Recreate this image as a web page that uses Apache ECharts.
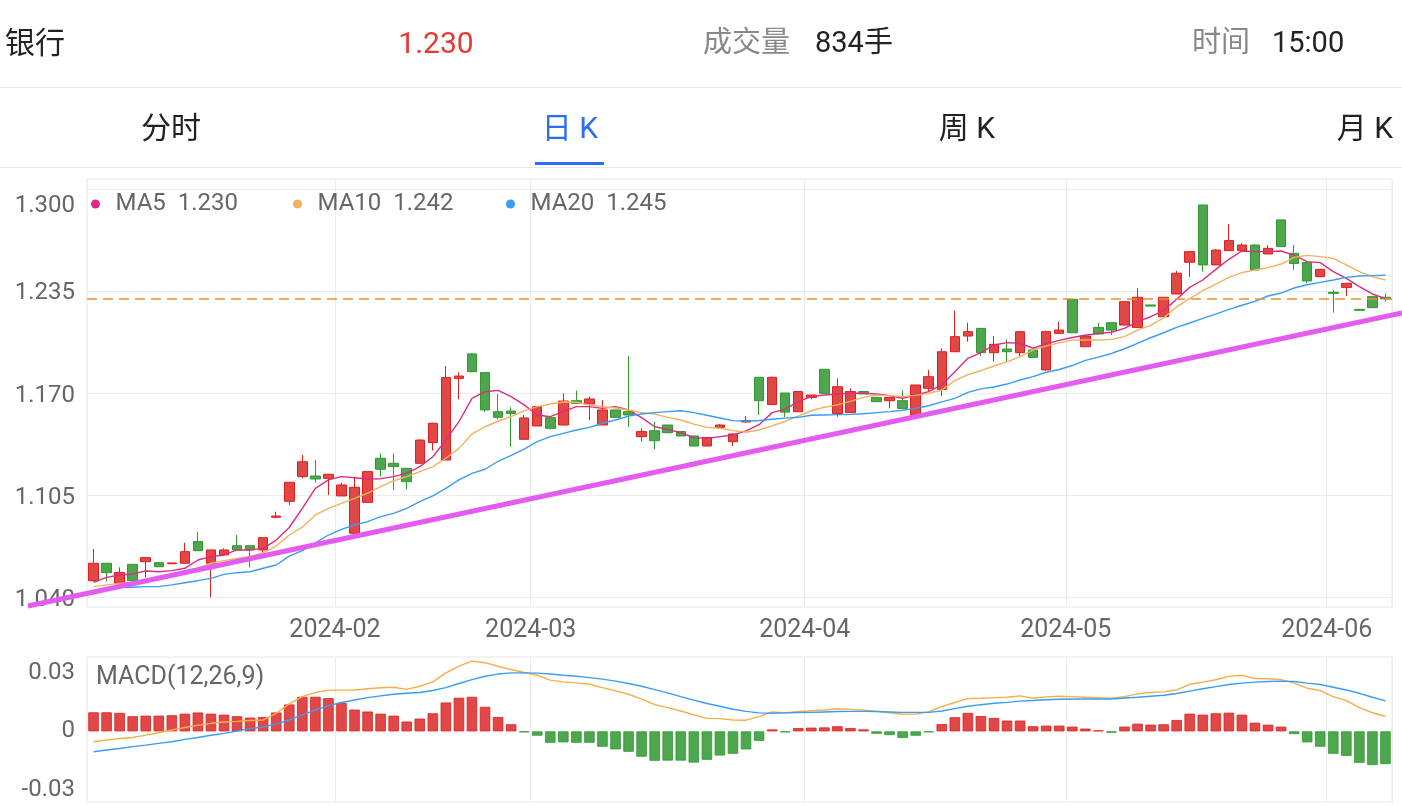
<!DOCTYPE html>
<html><head><meta charset="utf-8">
<script src="https://cdn.jsdelivr.net/npm/echarts@6/dist/echarts.min.js"></script>
<style>html,body{margin:0;padding:0;background:#fff}#c{width:1402px;height:806px}</style>
</head><body><div id="c"></div>
<script>
// ---------- data ----------
const tradingDays = {
  '2024-01': [5,8,9,10,11,12,15,16,17,18,19,22,23,24,25,26,29,30,31],
  '2024-02': [1,2,5,6,7,8,19,20,21,22,23,26,27,28,29],
  '2024-03': [1,4,5,6,7,8,11,12,13,14,15,18,19,20,21,22,25,26,27,28,29],
  '2024-04': [1,2,3,8,9,10,11,12,15,16,17,18,19,22,23,24,25,26,29,30],
  '2024-05': [6,7,8,9,10,13,14,15,16,17,20,21,22,23,24,27,28,29,30,31],
  '2024-06': [3,4,5,6,7]
};
const openP = [1.0504,1.0615,1.0487,1.0608,1.0625,1.0619,1.0612,1.0615,1.0753,1.0615,
 1.0668,1.0727,1.0727,1.0700,1.0908,1.1010,1.1167,1.1171,1.1156,1.1044,
 1.0806,1.1003,1.1284,1.1252,1.1220,1.1252,1.1384,1.1273,1.1793,1.1949,
 1.1830,1.1581,1.1585,1.1405,1.1490,1.1543,1.1496,1.1651,1.1630,1.1496,
 1.1592,1.1581,1.1422,1.1460,1.1496,1.1454,1.1426,1.1362,1.1481,1.1390,
 1.1515,1.1800,1.1627,1.1700,1.1581,1.1672,1.1851,1.1570,1.1575,1.1709,
 1.1672,1.1651,1.1651,1.1560,1.1730,1.1723,1.1963,1.2063,1.2112,1.1957,
 1.1980,1.1957,1.1974,1.1847,1.2080,1.2297,1.1995,1.2118,1.2148,1.2133,
 1.2118,1.2261,1.2186,1.2331,1.2533,1.2898,1.2516,1.2607,1.2607,1.2643,
 1.2586,1.2803,1.2590,1.2531,1.2441,1.2342,1.2373,1.2233,1.2314,1.2310];
const closeP = [1.0615,1.0555,1.0557,1.0504,1.0651,1.0593,1.0617,1.0689,1.0695,1.0700,
 1.0700,1.0700,1.0700,1.0778,1.0916,1.1131,1.1262,1.1152,1.1182,1.1114,
 1.1099,1.1199,1.1214,1.1231,1.1135,1.1400,1.1507,1.1798,1.1808,1.1836,
 1.1592,1.1545,1.1570,1.1541,1.1613,1.1475,1.1649,1.1634,1.1662,1.1592,
 1.1545,1.1560,1.1454,1.1396,1.1447,1.1426,1.1362,1.1417,1.1496,1.1439,
 1.1524,1.1651,1.1800,1.1578,1.1709,1.1687,1.1698,1.1740,1.1709,1.1694,
 1.1645,1.1672,1.1602,1.1751,1.1804,1.1963,1.2059,1.2091,1.1957,1.2010,
 1.1963,1.2091,1.1927,1.2091,1.2101,1.2084,1.2063,1.2076,1.2101,1.2282,
 1.2310,1.2254,1.2310,1.2463,1.2601,1.2516,1.2611,1.2671,1.2643,1.2484,
 1.2622,1.2633,1.2526,1.2414,1.2488,1.2335,1.2399,1.2227,1.2244,1.2300];
const lowP = [1.0498,1.0498,1.0487,1.0498,1.0525,1.0593,1.0612,1.0615,1.0695,1.0398,
 1.0661,1.0700,1.0589,1.0683,1.0901,1.0986,1.1156,1.1129,1.1050,1.1044,
 1.0806,1.1003,1.1167,1.1082,1.1086,1.1252,1.1333,1.1273,1.1660,1.1832,
 1.1581,1.1532,1.1358,1.1405,1.1490,1.1468,1.1496,1.1634,1.1528,1.1496,
 1.1541,1.1481,1.1390,1.1341,1.1443,1.1426,1.1362,1.1362,1.1475,1.1362,
 1.1511,1.1560,1.1627,1.1545,1.1581,1.1660,1.1698,1.1549,1.1575,1.1694,
 1.1645,1.1602,1.1602,1.1560,1.1709,1.1681,1.1963,1.2027,1.1936,1.1900,
 1.1900,1.1936,1.1927,1.1843,1.2076,1.2084,1.1995,1.2070,1.2070,1.2133,
 1.2118,1.2254,1.2186,1.2331,1.2441,1.2473,1.2516,1.2607,1.2607,1.2484,
 1.2586,1.2633,1.2484,1.2399,1.2441,1.2212,1.2318,1.2227,1.2244,1.2282];
const highP = [1.0706,1.0615,1.0589,1.0608,1.0651,1.0619,1.0617,1.0746,1.0816,1.0700,
 1.0710,1.0795,1.0727,1.0778,1.0944,1.1131,1.1305,1.1273,1.1182,1.1129,
 1.1167,1.1199,1.1316,1.1316,1.1220,1.1405,1.1511,1.1872,1.1832,1.1953,
 1.1830,1.1694,1.1609,1.1560,1.1617,1.1543,1.1698,1.1715,1.1677,1.1655,
 1.1592,1.1936,1.1475,1.1517,1.1496,1.1454,1.1426,1.1417,1.1502,1.1443,
 1.1553,1.1800,1.1804,1.1700,1.1713,1.1687,1.1851,1.1793,1.1730,1.1713,
 1.1677,1.1672,1.1715,1.1751,1.1847,1.1985,1.2225,1.2148,1.2112,1.2063,
 1.2042,1.2091,1.1974,1.2097,1.2155,1.2297,1.2070,1.2148,1.2148,1.2282,
 1.2367,1.2261,1.2310,1.2478,1.2601,1.2898,1.2616,1.2777,1.2654,1.2647,
 1.2643,1.2803,1.2643,1.2531,1.2488,1.2356,1.2399,1.2233,1.2314,1.2335];
const ma5 = [1.0493,1.0525,1.0540,1.0547,1.0566,1.0561,1.0568,1.0583,1.0636,1.0657,
 1.0668,1.0700,1.0700,1.0710,1.0763,1.0843,1.0965,1.1092,1.1146,1.1167,
 1.1160,1.1152,1.1154,1.1167,1.1188,1.1231,1.1294,1.1400,1.1517,1.1666,
 1.1708,1.1717,1.1677,1.1624,1.1560,1.1549,1.1581,1.1613,1.1613,1.1602,
 1.1613,1.1592,1.1543,1.1485,1.1468,1.1447,1.1415,1.1411,1.1422,1.1432,
 1.1459,1.1498,1.1575,1.1597,1.1645,1.1677,1.1687,1.1694,1.1698,1.1698,
 1.1694,1.1683,1.1666,1.1687,1.1709,1.1751,1.1836,1.1921,1.1957,1.2006,
 1.2021,1.2017,1.1985,1.2013,1.2035,1.2054,1.2068,1.2080,1.2087,1.2112,
 1.2155,1.2186,1.2225,1.2297,1.2373,1.2420,1.2488,1.2552,1.2605,1.2601,
 1.2601,1.2605,1.2577,1.2537,1.2531,1.2473,1.2431,1.2378,1.2331,1.2301];
const ma10 = [1.0466,1.0477,1.0487,1.0493,1.0504,1.0519,1.0534,1.0551,1.0583,1.0615,
 1.0632,1.0646,1.0657,1.0683,1.0725,1.0795,1.0845,1.0923,1.0965,1.0997,
 1.1029,1.1061,1.1103,1.1141,1.1167,1.1199,1.1231,1.1284,1.1347,1.1439,
 1.1485,1.1520,1.1549,1.1586,1.1613,1.1630,1.1643,1.1641,1.1624,1.1613,
 1.1604,1.1592,1.1575,1.1566,1.1545,1.1528,1.1502,1.1481,1.1475,1.1460,
 1.1450,1.1464,1.1490,1.1520,1.1553,1.1587,1.1609,1.1624,1.1647,1.1672,
 1.1687,1.1683,1.1677,1.1685,1.1698,1.1719,1.1779,1.1817,1.1842,1.1872,
 1.1898,1.1932,1.1974,1.2000,1.2019,1.2037,1.2038,1.2038,1.2042,1.2059,
 1.2101,1.2131,1.2178,1.2250,1.2301,1.2352,1.2394,1.2437,1.2467,1.2484,
 1.2499,1.2522,1.2564,1.2577,1.2569,1.2558,1.2516,1.2473,1.2441,1.2420];
const ma20 = [1.0440,1.0449,1.0462,1.0462,1.0466,1.0466,1.0477,1.0491,1.0504,1.0519,
 1.0544,1.0555,1.0561,1.0583,1.0604,1.0660,1.0695,1.0745,1.0795,1.0831,
 1.0859,1.0880,1.0912,1.0933,1.0965,1.1008,1.1044,1.1092,1.1146,1.1188,
 1.1214,1.1265,1.1303,1.1342,1.1390,1.1422,1.1443,1.1464,1.1481,1.1507,
 1.1528,1.1553,1.1566,1.1575,1.1581,1.1587,1.1575,1.1558,1.1541,1.1524,
 1.1520,1.1525,1.1533,1.1540,1.1545,1.1558,1.1560,1.1562,1.1564,1.1568,
 1.1575,1.1581,1.1590,1.1602,1.1619,1.1643,1.1666,1.1704,1.1726,1.1738,
 1.1757,1.1783,1.1804,1.1832,1.1850,1.1875,1.1908,1.1929,1.1952,1.1982,
 1.2016,1.2052,1.2084,1.2118,1.2146,1.2175,1.2203,1.2233,1.2259,1.2284,
 1.2318,1.2337,1.2369,1.2390,1.2405,1.2420,1.2437,1.2446,1.2448,1.2450];
const macdHist = [0.0097,0.0097,0.0094,0.0077,0.0080,0.0080,0.0082,0.0090,0.0096,0.0090,
 0.0085,0.0077,0.0070,0.0073,0.0096,0.0137,0.0176,0.0176,0.0169,0.0145,
 0.0111,0.0101,0.0090,0.0080,0.0050,0.0065,0.0092,0.0147,0.0171,0.0176,
 0.0125,0.0073,0.0036,-0.0005,-0.0022,-0.0058,-0.0056,-0.0058,-0.0058,-0.0078,
 -0.0092,-0.0104,-0.0129,-0.0150,-0.0149,-0.0149,-0.0159,-0.0145,-0.0123,-0.0114,
 -0.0092,-0.0048,0.0010,-0.0005,0.0017,0.0019,0.0020,0.0026,0.0017,0.0010,
 -0.0012,-0.0019,-0.0034,-0.0022,-0.0005,0.0037,0.0072,0.0094,0.0078,0.0068,
 0.0055,0.0055,0.0026,0.0029,0.0029,0.0024,0.0014,0.0005,-0.0007,0.0024,
 0.0039,0.0034,0.0036,0.0058,0.0090,0.0085,0.0092,0.0095,0.0085,0.0044,
 0.0034,0.0024,-0.0014,-0.0056,-0.0078,-0.0114,-0.0125,-0.0160,-0.0172,-0.0167];
const difLine = [-0.0053,-0.0044,-0.0036,-0.0031,-0.0019,-0.0007,0.0007,0.0020,0.0031,0.0041,
 0.0048,0.0051,0.0055,0.0058,0.0092,0.0140,0.0177,0.0198,0.0210,0.0210,
 0.0211,0.0217,0.0222,0.0225,0.0214,0.0230,0.0252,0.0298,0.0332,0.0358,
 0.0350,0.0332,0.0315,0.0300,0.0286,0.0261,0.0252,0.0247,0.0240,0.0223,
 0.0206,0.0189,0.0164,0.0136,0.0121,0.0104,0.0084,0.0066,0.0065,0.0058,
 0.0057,0.0075,0.0099,0.0095,0.0100,0.0105,0.0109,0.0115,0.0112,0.0109,
 0.0102,0.0095,0.0087,0.0088,0.0100,0.0126,0.0147,0.0167,0.0169,0.0172,
 0.0174,0.0181,0.0169,0.0176,0.0179,0.0177,0.0174,0.0172,0.0169,0.0177,
 0.0191,0.0198,0.0201,0.0211,0.0240,0.0251,0.0263,0.0280,0.0286,0.0269,
 0.0268,0.0264,0.0246,0.0220,0.0208,0.0177,0.0157,0.0121,0.0095,0.0077];
const deaLine = [-0.0104,-0.0095,-0.0087,-0.0078,-0.0070,-0.0061,-0.0053,-0.0041,-0.0031,-0.0020,
 -0.0010,0.0002,0.0014,0.0022,0.0038,0.0058,0.0084,0.0109,0.0131,0.0147,
 0.0160,0.0172,0.0181,0.0189,0.0194,0.0198,0.0208,0.0223,0.0244,0.0264,
 0.0281,0.0292,0.0298,0.0298,0.0297,0.0292,0.0286,0.0281,0.0274,0.0266,
 0.0256,0.0244,0.0230,0.0213,0.0196,0.0177,0.0159,0.0142,0.0128,0.0113,
 0.0102,0.0094,0.0092,0.0094,0.0096,0.0097,0.0099,0.0101,0.0102,0.0102,
 0.0101,0.0099,0.0097,0.0097,0.0097,0.0104,0.0116,0.0128,0.0136,0.0143,
 0.0148,0.0154,0.0157,0.0161,0.0164,0.0165,0.0165,0.0165,0.0165,0.0170,
 0.0174,0.0179,0.0184,0.0193,0.0205,0.0217,0.0228,0.0239,0.0246,0.0251,
 0.0254,0.0256,0.0254,0.0246,0.0239,0.0225,0.0211,0.0194,0.0174,0.0155];
const trendX = [-4.52, 100.77];
const trendY = [1.0343, 1.2210];
const lastPrice = 1.230;
const priceTicks = [1.040, 1.105, 1.170, 1.235, 1.300];
const macdTicks = [-0.03, 0, 0.03];
const maNames = ['MA5', 'MA10', 'MA20'];
const maLegendValues = ['1.230', '1.242', '1.245'];
const header = { name: '银行', price: '1.230', volLabel: '成交量', vol: '834手', timeLabel: '时间', time: '15:00' };
const tabs = ['分时', '日 K', '周 K', '月 K'];

// ---------- build ----------
const FONT = 'Roboto, "Noto Sans CJK SC", sans-serif';
const categories = [];
Object.keys(tradingDays).forEach(m => tradingDays[m].forEach(d => categories.push(m + '-' + String(d).padStart(2, '0'))));
const monthStarts = new Set();
categories.forEach((c, i) => { if (i > 0 && c.slice(0, 7) !== categories[i - 1].slice(0, 7)) monthStarts.add(i); });
const isMonthStart = (i) => monthStarts.has(i);
const candles = categories.map((c, i) => [openP[i], closeP[i], lowP[i], highP[i]]);
const priceMin = 1.03363, priceMax = 1.30637;

const RED = '#E04848', RED_B = '#E01E1E', GREEN = '#4EA64E', GREEN_B = '#2E9A2E';
const C_MA5 = '#DB2C80', C_MA10 = '#F3B15C', C_MA20 = '#3A9CF5';
const GRID_LINE = '#ececec';
const histData = macdHist.map(v => ({ value: v, itemStyle: { color: v >= 0 ? RED : GREEN, borderColor: v >= 0 ? RED_B : GREEN_B, borderWidth: 0.8 } }));

const chart = echarts.init(document.getElementById('c'), null, { renderer: 'canvas' });

const legendLefts = [91, 293, 506];
const legends = maNames.map((n, k) => ({
  data: [n], left: legendLefts[k], top: 192, padding: 0, icon: 'circle', itemWidth: 30, itemHeight: 9,
  selectedMode: false, formatter: name => name + '  ' + maLegendValues[k],
  textStyle: { color: '#666', fontSize: 24, fontFamily: FONT }
}));

const textEl = (text, x, y, size, color, align) => ({
  type: 'text', x: x, y: y, silent: true,
  style: { text: text, fill: color, font: size + 'px ' + FONT, textAlign: align || 'left', textVerticalAlign: 'middle' }
});

chart.setOption({
  animation: false,
  backgroundColor: '#fff',
  legend: legends,
  grid: [
    { left: 87, right: 10, top: 179, height: 428, show: true, borderColor: '#e6e6e6', borderWidth: 1 },
    { left: 87, right: 10, top: 657, height: 145, show: true, borderColor: '#e6e6e6', borderWidth: 1 },
    { left: 28, right: 0, top: 179, height: 428, show: false }
  ],
  xAxis: [
    { type: 'category', gridIndex: 0, data: categories, boundaryGap: true,
      axisLine: { show: false }, axisTick: { show: false },
      axisLabel: { interval: isMonthStart, formatter: v => v.slice(0, 7), color: '#666', fontSize: 25, fontFamily: FONT, margin: 11, padding: [0, 13, 0, 0] },
      splitLine: { show: true, interval: isMonthStart, lineStyle: { color: GRID_LINE, width: 1 } } },
    { type: 'category', gridIndex: 1, data: categories, boundaryGap: true,
      axisLine: { show: false }, axisTick: { show: false }, axisLabel: { show: false },
      splitLine: { show: true, interval: isMonthStart, lineStyle: { color: GRID_LINE, width: 1 } } },
    { type: 'value', gridIndex: 2, min: trendX[0], max: trendX[1], show: false }
  ],
  yAxis: [
    { type: 'value', gridIndex: 0, min: priceMin, max: priceMax, scale: true,
      axisLine: { show: false }, axisTick: { show: false, customValues: priceTicks },
      axisLabel: { customValues: priceTicks, margin: 12,
        formatter: v => (Math.abs(v - priceTicks[priceTicks.length - 1]) < 1e-9 ? '{t|' : '{n|') + v.toFixed(3) + '}',
        rich: { t: { color: '#666', fontSize: 24, fontFamily: FONT, padding: [34, 0, 0, 0] },
                n: { color: '#666', fontSize: 24, fontFamily: FONT, padding: [5, 0, 0, 0] } } },
      splitLine: { show: true, lineStyle: { color: GRID_LINE, width: 1 } } },
    { type: 'value', gridIndex: 1, min: -0.0360, max: 0.0379,
      axisLine: { show: false }, axisTick: { show: false, customValues: macdTicks },
      axisLabel: { customValues: macdTicks, margin: 12, color: '#666', fontSize: 24, fontFamily: FONT,
        formatter: v => (v === 0 ? '0' : v.toFixed(2)) },
      splitLine: { show: false } },
    { type: 'value', gridIndex: 2, min: priceMin, max: priceMax, show: false }
  ],
  graphic: [
    textEl(header.name, 5, 45, 30, '#222'),
    textEl(header.price, 436, 45, 30, '#E53935', 'center'),
    textEl(header.volLabel, 703, 45, 29, '#888'),
    textEl(header.vol, 815, 45, 29, '#222'),
    textEl(header.timeLabel, 1192, 45, 29, '#888'),
    textEl(header.time, 1272, 45, 29, '#222'),
    { type: 'line', silent: true, shape: { x1: 0, y1: 87.5, x2: 1402, y2: 87.5 }, style: { stroke: '#e8e8e8', lineWidth: 1 } },
    textEl(tabs[0], 171, 130, 30, '#222', 'center'),
    textEl(tabs[1], 570, 130, 30, '#2B6EF5', 'center'),
    textEl(tabs[2], 967, 130, 30, '#222', 'center'),
    textEl(tabs[3], 1365, 130, 30, '#222', 'center'),
    { type: 'rect', silent: true, shape: { x: 535, y: 162, width: 69, height: 3 }, style: { fill: '#2B6EF5' } },
    { type: 'line', silent: true, shape: { x1: 0, y1: 167.5, x2: 1402, y2: 167.5 }, style: { stroke: '#e8e8e8', lineWidth: 1 } },
    textEl('MACD(12,26,9)', 96, 678, 25, '#666')
  ],
  series: [
    { name: 'K', type: 'candlestick', xAxisIndex: 0, yAxisIndex: 0, data: candles, barWidth: 10,
      itemStyle: { color: RED, color0: GREEN, borderColor: RED_B, borderColor0: GREEN_B, borderWidth: 1 },
      markLine: { silent: true, symbol: 'none', label: { show: false },
        lineStyle: { color: '#E8912C', type: [10, 6], width: 1.5 }, data: [{ yAxis: lastPrice }] } },
    { name: 'MA5', type: 'line', xAxisIndex: 0, yAxisIndex: 0, data: ma5, color: C_MA5, symbol: 'none', lineStyle: { width: 1.4, color: C_MA5 }, z: 3 },
    { name: 'MA10', type: 'line', xAxisIndex: 0, yAxisIndex: 0, data: ma10, color: C_MA10, symbol: 'none', lineStyle: { width: 1.4, color: C_MA10 }, z: 3 },
    { name: 'MA20', type: 'line', xAxisIndex: 0, yAxisIndex: 0, data: ma20, color: C_MA20, symbol: 'none', lineStyle: { width: 1.4, color: C_MA20 }, z: 3 },
    { name: 'trend', type: 'line', xAxisIndex: 2, yAxisIndex: 2, clip: false, symbol: 'none', z: 6,
      data: [[trendX[0], trendY[0]], [trendX[1], trendY[1]]], lineStyle: { width: 5, color: '#E35BEF' } },
    { name: 'MACD', type: 'bar', xAxisIndex: 1, yAxisIndex: 1, data: histData, barWidth: 10.5 },
    { name: 'DIF', type: 'line', xAxisIndex: 1, yAxisIndex: 1, data: difLine, symbol: 'none', lineStyle: { width: 1.4, color: '#F5AE4A' }, z: 3 },
    { name: 'DEA', type: 'line', xAxisIndex: 1, yAxisIndex: 1, data: deaLine, symbol: 'none', lineStyle: { width: 1.4, color: '#3A9CF5' }, z: 3 }
  ]
});
</script>
</body></html>
